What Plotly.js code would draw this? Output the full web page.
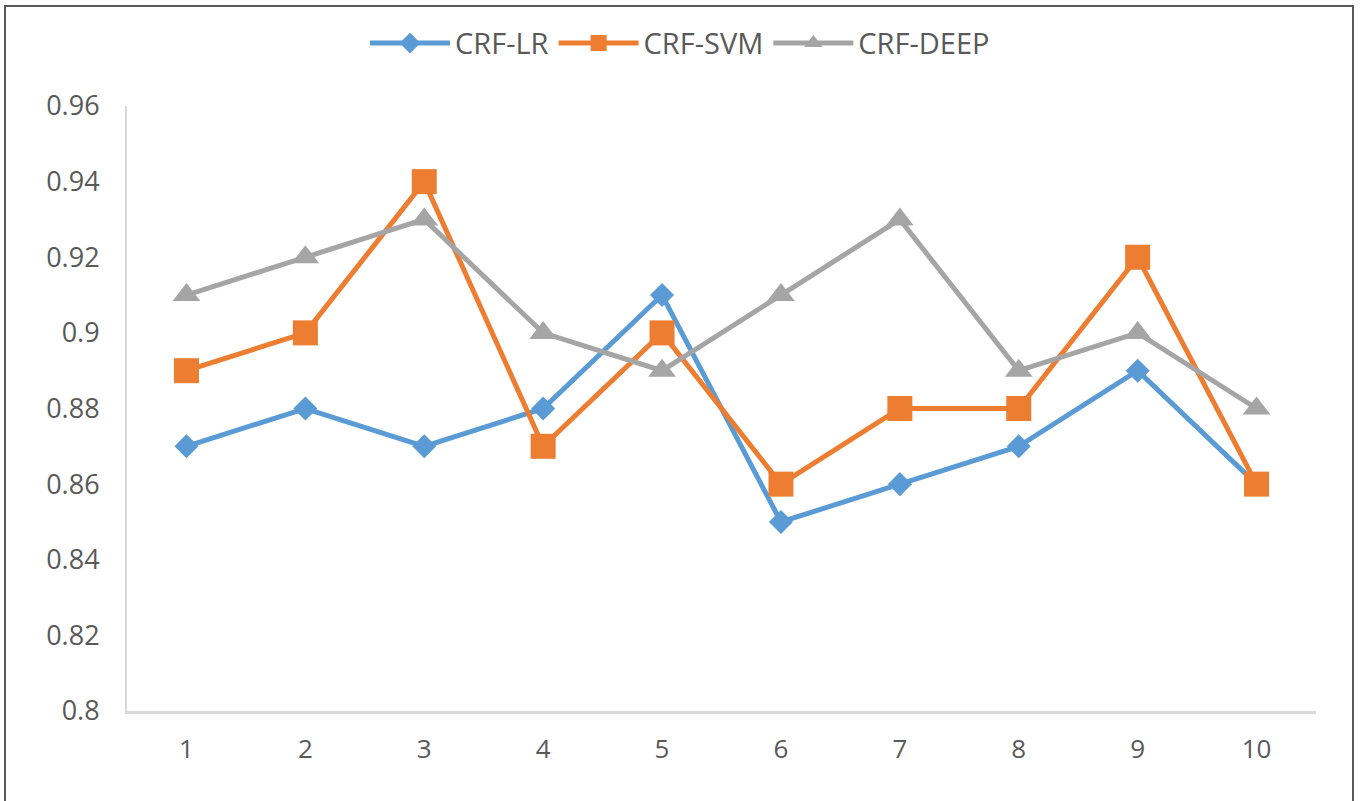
<!DOCTYPE html>
<html>
<head>
<meta charset="utf-8">
<script src="https://cdn.plot.ly/plotly-3.0.1.min.js"></script>
<style>
  html, body { margin: 0; padding: 0; background: #fff; overflow: hidden; }
  #chart { width: 1360px; height: 801px; position: relative; }
  #frame { position: absolute; left: 4px; top: 5px; width: 1346px; height: 820px;
           border: 2px solid #5a5a5a; pointer-events: none; }
</style>
</head>
<body>
<div id="chart"></div>
<div id="frame"></div>
<script>
// Run index (x axis) and accuracy of each model
const runs = [1, 2, 3, 4, 5, 6, 7, 8, 9, 10];
const runLabels = ['1', '2', '3', '4', '5', '6', '7', '8', '9', '10'];
const crfLR   = [0.87, 0.88, 0.87, 0.88, 0.91, 0.85, 0.86, 0.87, 0.89, 0.86];
const crfSVM  = [0.89, 0.90, 0.94, 0.87, 0.90, 0.86, 0.88, 0.88, 0.92, 0.86];
const crfDEEP = [0.91, 0.92, 0.93, 0.90, 0.89, 0.91, 0.93, 0.89, 0.90, 0.88];
const yTicks  = [0.8, 0.82, 0.84, 0.86, 0.88, 0.9, 0.92, 0.94, 0.96];
const yLabels = ['0.8', '0.82', '0.84', '0.86', '0.88', '0.9', '0.92', '0.94', '0.96'];

const FONT = '"Open Sans", "Noto Sans", sans-serif';
const TEXT = '#595959';

function series(name, y, color, symbol, size) {
  return {
    type: 'scatter', mode: 'lines+markers', name: name,
    x: runs, y: y,
    line: { color: color, width: 5 },
    marker: { symbol: symbol, size: size, color: color, line: { width: 0 } }
  };
}

const data = [
  series('CRF-LR', crfLR, '#5B9BD5', 'diamond', 18.5),
  series('CRF-SVM', crfSVM, '#ED7D31', 'square', 25),
  series('CRF-DEEP', crfDEEP, '#A5A5A5', 'triangle-up', 24)
];

const layout = {
  width: 1360, height: 801,
  margin: { l: 127, r: 44, t: 106, b: 90, autoexpand: false },
  paper_bgcolor: '#fff', plot_bgcolor: '#fff',
  font: { family: FONT, color: TEXT, size: 26 },
  showlegend: true,
  legend: {
    orientation: 'h', x: 0.5, xanchor: 'center', xref: 'container',
    y: 0.946, yanchor: 'middle', yref: 'container',
    font: { family: FONT, size: 29, color: TEXT },
    itemwidth: 80, tracegroupgap: 0
  },
  xaxis: {
    range: [0.5, 10.5], tickmode: 'array', tickvals: runs, ticktext: runLabels,
    showgrid: false, zeroline: false, showline: true, linecolor: '#d9d9d9', linewidth: 3,
    ticks: '', ticklabelstandoff: 13,
    tickfont: { family: FONT, size: 26, color: TEXT }
  },
  yaxis: {
    range: [0.8, 0.96], tickmode: 'array', tickvals: yTicks, ticktext: yLabels,
    showgrid: false, zeroline: false, showline: true, linecolor: '#d9d9d9', linewidth: 2,
    ticks: '', ticklabelstandoff: 20,
    tickfont: { family: FONT, size: 27, color: TEXT }
  }
};

Plotly.newPlot('chart', data, layout, { staticPlot: true, displayModeBar: false });
</script>
</body>
</html>
